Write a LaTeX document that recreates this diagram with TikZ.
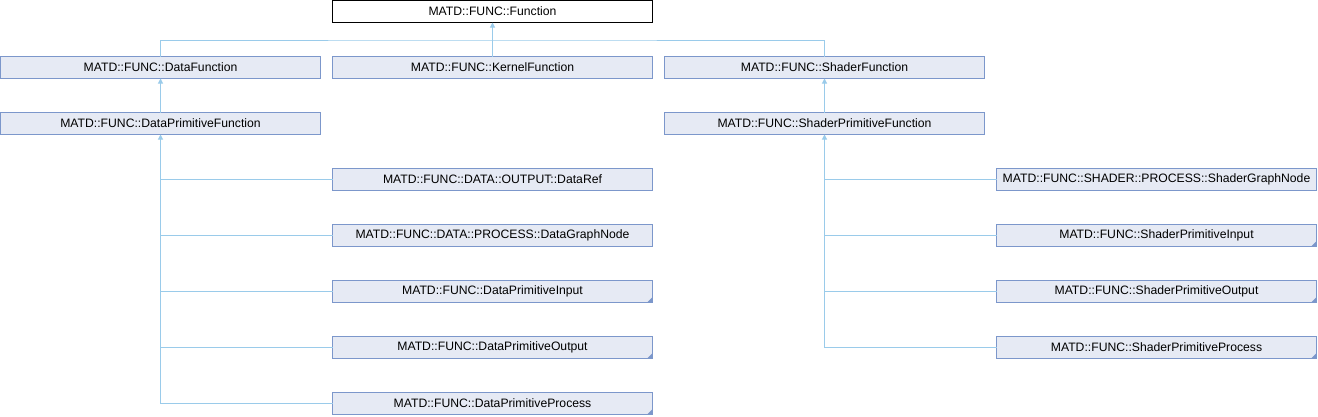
\documentclass[tikz,border=0pt]{standalone}
\usepackage{fontspec}
\setmainfont{Liberation Sans}
\usetikzlibrary{arrows.meta}
\definecolor{boxfill}{HTML}{E6EAF4}
\definecolor{boxline}{HTML}{7C97CB}
\definecolor{edgecol}{HTML}{9ACBEA}
\begin{document}
\begin{tikzpicture}[x=1pt,y=-1pt,
  cls/.style={draw=boxline,fill=boxfill,line width=1pt,inner sep=0pt,outer sep=0pt,
    minimum width=320pt,minimum height=22pt,font=\fontsize{12.2}{14}\selectfont},
  cur/.style={cls,draw=black,fill=white},
  edge/.style={draw=edgecol,line width=1pt},
  arr/.style={-{Triangle[width=5pt,length=5pt]}},
  corner/.style={path picture={\fill[boxline] (path picture bounding box.south east) -- ++(-5.5pt,0) -- ++(5.5pt,5.5pt) -- cycle;}}]
\useasboundingbox (0,0) rectangle (1318,416);
% row 0
\node[cur] (fn) at (492.5,11.5) {MATD::FUNC::Function};
% row 1
\node[cls] (df) at (160.5,67.5) {MATD::FUNC::DataFunction};
\node[cls] (kf) at (492.5,67.5) {MATD::FUNC::KernelFunction};
\node[cls] (sf) at (824.5,67.5) {MATD::FUNC::ShaderFunction};
% row 2
\node[cls] (dpf) at (160.5,123.5) {MATD::FUNC::DataPrimitiveFunction};
\node[cls] (spf) at (824.5,123.5) {MATD::FUNC::ShaderPrimitiveFunction};
% data children
\node[cls] (dref) at (492.5,179.5) {MATD::FUNC::DATA::OUTPUT::DataRef};
\node[cls] (dgn) at (492.5,235.5) {MATD::FUNC::DATA::PROCESS::DataGraphNode};
\node[cls,corner] (dpi) at (492.5,291.5) {MATD::FUNC::DataPrimitiveInput};
\node[cls,corner] (dpo) at (492.5,347.5) {MATD::FUNC::DataPrimitiveOutput};
\node[cls,corner] (dpp) at (492.5,403.5) {MATD::FUNC::DataPrimitiveProcess};
% shader children
\node[cls] (sgn) at (1156.5,179.5) {MATD::FUNC::SHADER::PROCESS::ShaderGraphNode};
\node[cls,corner] (spi) at (1156.5,235.5) {MATD::FUNC::ShaderPrimitiveInput};
\node[cls,corner] (spo) at (1156.5,291.5) {MATD::FUNC::ShaderPrimitiveOutput};
\node[cls,corner] (spp) at (1156.5,347.5) {MATD::FUNC::ShaderPrimitiveProcess};
% connectors
\coordinate (bus) at (492.5,40);
\draw[edge] (df.north) |- (bus) -| (sf.north);
\draw[edge,arr] (kf.north) -- (fn.south);
\draw[edge,arr] (dpf.north) -- (df.south);
\draw[edge,arr] (spf.north) -- (sf.south);
\draw[edge] (dref.west) -| (dpf.south);
\draw[edge] (dgn.west) -| (dpf.south);
\draw[edge] (dpi.west) -| (dpf.south);
\draw[edge] (dpo.west) -| (dpf.south);
\draw[edge,arr] (dpp.west) -| (dpf.south);
\draw[edge] (sgn.west) -| (spf.south);
\draw[edge] (spi.west) -| (spf.south);
\draw[edge] (spo.west) -| (spf.south);
\draw[edge,arr] (spp.west) -| (spf.south);
\end{tikzpicture}
\end{document}
